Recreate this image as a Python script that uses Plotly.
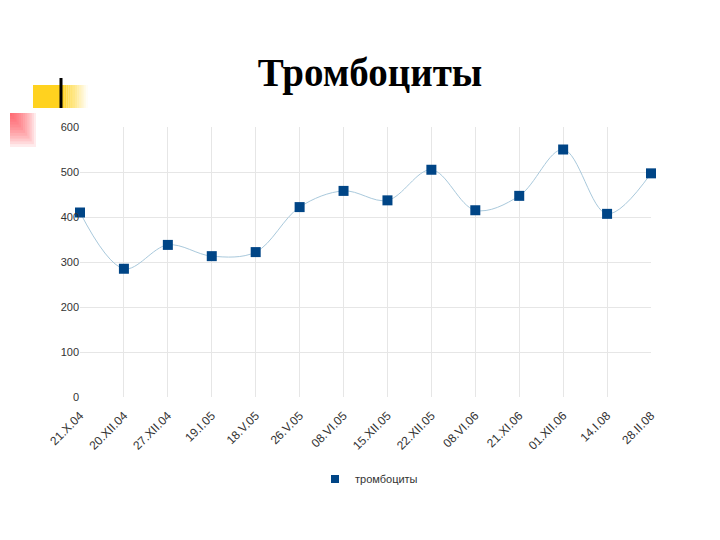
import plotly.graph_objects as go

dates = ["21.X.04","20.XII.04","27.XII.04","19.I.05","18.V.05","26.V.05","08.VI.05",
         "15.XII.05","22.XII.05","08.VI.06","21.XI.06","01.XII.06","14.I.08","28.II.08"]
values = [410, 285, 338, 313, 322, 422, 458, 437, 505, 415, 447, 550, 407, 497]

OFF = 8  # page body margin
W, H = 720 - 2 * OFF, 540 - 2 * OFF
L, R, T, B = 80, 651, 127, 397  # screen pixel plot area
def px(x): return (x - L) / (R - L)
def py(y): return (B - y) / (B - T)

fig = go.Figure()
fig.add_trace(go.Scatter(x=list(range(len(dates))), y=values, mode="lines+markers",
    name="тромбоциты", showlegend=False, cliponaxis=False,
    line=dict(color="#a9c9dc", width=1, shape="spline", smoothing=1.0),
    marker=dict(symbol="square", size=10, color="#004586")))
fig.add_trace(go.Scatter(x=[None], y=[None], mode="markers", name="тромбоциты",
    marker=dict(symbol="square", size=8, color="#004586")))

shapes = []
shapes.append(dict(type="rect", xref="paper", yref="paper", x0=px(33), x1=px(62), y0=py(108), y1=py(85),
                   fillcolor="#ffd21f", line_width=0, layer="below"))
n = 12
for i in range(n):
    a = 1 - (i + 0.5) / n
    shapes.append(dict(type="rect", xref="paper", yref="paper", x0=px(62 + 26 * i / n), x1=px(62 + 26 * (i + 1) / n),
                       y0=py(108), y1=py(85), fillcolor=f"rgba(255,210,31,{a:.2f})", line_width=0, layer="below"))
for i in range(n):
    s = 26 * i / n
    shapes.append(dict(type="rect", xref="paper", yref="paper", x0=px(10), x1=px(36 - s),
                       y0=py(147 - s * 1.3), y1=py(113), fillcolor="rgba(255,60,70,0.1)", line_width=0, layer="below"))
shapes.append(dict(type="line", xref="paper", yref="paper", x0=px(61), x1=px(61), y0=py(108), y1=py(78),
                   line=dict(color="black", width=3)))

fig.update_layout(
    width=W, height=H, paper_bgcolor="white", plot_bgcolor="white",
    margin=dict(l=L - OFF, r=720 - OFF - R, t=T - OFF, b=540 - OFF - B),
    title=dict(text="<b>Тромбоциты</b>", x=(370 - OFF) / W, xanchor="center", y=1 - (72 - OFF) / H, yanchor="middle",
               font=dict(family="Liberation Serif", size=39, color="black")),
    showlegend=True,
    legend=dict(orientation="h", x=px(315), xanchor="left", y=py(479), yanchor="middle",
                font=dict(family="Liberation Sans", size=11, color="#333")),
    shapes=shapes,
    xaxis=dict(range=[0, len(dates) - 1], tickmode="array", tickvals=list(range(len(dates))), ticktext=dates,
               tickangle=-45, showgrid=True, gridcolor="#e6e6e6", zeroline=False, showline=False, automargin=False,
               ticks="outside", ticklen=6, tickcolor="rgba(0,0,0,0)",
               tickfont=dict(family="Liberation Sans", size=12, color="#333")),
    yaxis=dict(range=[0, 600], dtick=100, showgrid=True, gridcolor="#e6e6e6", zeroline=False, automargin=False,
               tickfont=dict(family="Liberation Sans", size=11, color="#333"), ticklen=0),
)
fig.write_html("out.html")
